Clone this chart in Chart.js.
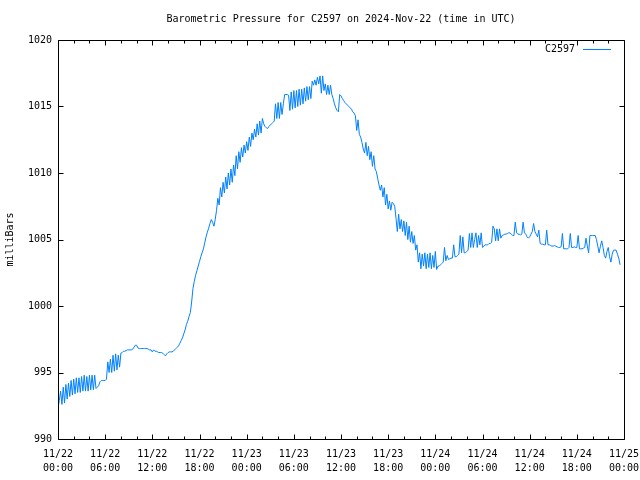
<!DOCTYPE html>
<html><head><meta charset="utf-8">
<script src="https://cdn.jsdelivr.net/npm/chart.js@4"></script>
<style>html,body{margin:0;padding:0;background:#fff;}#wrap{width:640px;height:480px;}</style>
</head><body><div id="wrap"><canvas id="c" width="640" height="480"></canvas></div>
<script>
const chartTitle = 'Barometric Pressure for C2597 on 2024-Nov-22 (time in UTC)';
const seriesName = 'C2597';
const yAxisTitle = 'milliBars';
const stepMinutes = 10; // sample spacing, starting 11/22 00:00 UTC
const pressure = [
992.3,992.9,993.6,992.6,993.9,992.7,
994.1,993.0,994.2,993.2,994.4,993.3,
994.5,993.4,994.6,993.5,994.6,993.5,
994.7,993.6,994.8,993.6,994.7,993.6,
994.8,993.7,994.8,993.7,994.8,993.8,
993.9,994.0,994.3,994.4,994.4,994.4,
994.4,994.5,995.8,995.0,996.0,995.0,
996.3,995.1,996.4,995.2,996.3,995.4,
996.45,996.5,996.6,996.6,996.65,996.7,
996.7,996.7,996.7,996.75,996.9,997.05,
997.05,996.85,996.8,996.8,996.8,996.8,
996.8,996.8,996.8,996.75,996.7,996.7,
996.55,996.7,996.6,996.6,996.55,996.5,
996.5,996.5,996.45,996.35,996.25,996.4,
996.5,996.55,996.55,996.55,996.6,996.7,
996.8,996.9,997.0,997.2,997.4,997.6,
997.9,998.2,998.6,998.85,999.2,999.5,
1000.3,1001.3,1001.85,1002.3,1002.65,1003.0,
1003.35,1003.7,1004.0,1004.3,1004.75,1005.2,
1005.55,1005.85,1006.2,1006.5,1006.3,1006.0,
1006.5,1007.2,1008.1,1007.6,1008.9,1008.2,
1009.3,1008.5,1009.7,1008.8,1010.0,1009.1,
1010.3,1009.3,1010.6,1009.8,1011.3,1010.3,
1011.6,1010.8,1011.9,1011.2,1012.1,1011.5,
1012.35,1011.7,1012.7,1012.0,1013.0,1012.5,
1013.3,1012.7,1013.7,1012.85,1013.9,1013.0,
1014.1,1013.7,1013.5,1013.4,1013.35,1013.5,
1013.6,1013.7,1013.8,1013.9,1015.2,1014.1,
1015.3,1014.1,1015.3,1014.4,1015.2,1015.9,
1015.9,1015.9,1015.85,1014.7,1016.1,1014.8,
1016.2,1014.9,1016.2,1015.0,1016.3,1015.1,
1016.3,1015.2,1016.4,1015.4,1016.5,1015.5,
1016.5,1015.6,1016.9,1016.6,1017.0,1016.6,
1017.2,1016.7,1017.3,1016.0,1017.3,1016.2,
1016.7,1015.9,1016.6,1015.9,1016.6,1015.9,
1015.6,1015.2,1014.9,1014.7,1014.6,1015.9,
1015.8,1015.6,1015.45,1015.3,1015.2,1015.1,
1015.0,1014.9,1014.8,1014.6,1014.5,1014.3,
1013.2,1014.0,1012.9,1012.7,1012.3,1011.8,
1011.5,1012.3,1011.3,1012.0,1011.0,1011.6,
1010.5,1011.3,1010.3,1010.1,1009.6,1009.1,
1008.7,1009.1,1008.2,1008.9,1007.6,1008.4,
1007.3,1007.9,1007.2,1007.8,1007.7,1007.5,
1006.6,1005.6,1006.9,1005.8,1006.5,1005.6,
1006.4,1005.3,1006.3,1005.0,1006.0,1004.8,
1005.6,1004.7,1005.3,1004.2,1004.6,1003.3,
1004.0,1002.8,1003.9,1003.0,1004.0,1002.8,
1003.9,1002.9,1004.0,1002.8,1003.8,1002.9,
1004.1,1002.75,1003.0,1003.0,1003.1,1003.2,
1003.3,1004.4,1003.4,1003.8,1003.5,1003.55,
1003.6,1003.6,1004.6,1003.7,1003.7,1003.8,
1003.9,1005.3,1004.0,1005.2,1004.0,1004.0,
1004.1,1004.2,1005.45,1004.4,1005.5,1004.4,
1005.0,1005.5,1004.4,1005.3,1004.6,1005.5,
1004.4,1004.5,1004.6,1004.6,1004.6,1004.7,
1004.7,1004.8,1006.0,1005.8,1004.9,1005.8,
1004.9,1005.8,1005.1,1005.3,1005.35,1005.4,
1005.4,1005.45,1005.5,1005.5,1005.4,1005.3,
1005.3,1006.3,1005.5,1005.4,1005.4,1005.35,
1005.4,1006.3,1005.5,1005.4,1005.2,1005.1,
1005.2,1005.4,1005.6,1006.2,1005.6,1005.4,
1005.2,1005.7,1004.7,1004.65,1004.65,1004.6,
1004.6,1005.7,1004.6,1004.6,1004.55,1004.5,
1004.5,1004.55,1004.5,1004.45,1004.4,1004.4,
1004.45,1005.45,1004.3,1004.3,1004.3,1004.3,
1004.4,1005.45,1004.4,1004.4,1004.45,1004.4,
1004.4,1005.3,1004.3,1004.3,1004.3,1004.35,
1004.4,1005.1,1004.5,1004.0,1005.3,1005.3,
1005.3,1005.3,1005.3,1005.0,1004.5,1004.0,
1004.5,1004.9,1004.4,1003.8,1003.6,1004.1,
1004.4,1003.7,1003.3,1003.9,1004.2,1004.2,
1004.2,1003.9,1003.6,1003.1
];
const xTickHours = [0,6,12,18,24,30,36,42,48,54,60,66,72];
const xTickLabels = [
 ['11/22','00:00'],['11/22','06:00'],['11/22','12:00'],['11/22','18:00'],
 ['11/23','00:00'],['11/23','06:00'],['11/23','12:00'],['11/23','18:00'],
 ['11/24','00:00'],['11/24','06:00'],['11/24','12:00'],['11/24','18:00'],
 ['11/25','00:00']];
const xMinorStepHours = 2;
const yTickValues = [990,995,1000,1005,1010,1015,1020];

const lineColor = 'rgb(0,128,255)';
const fontFamily = '"DejaVu Sans Mono", "Liberation Mono", monospace';

const points = pressure.map((p, i) => ({ x: i * stepMinutes / 60, y: p }));

const framePlugin = {
  id: 'gnuframe',
  afterDatasetsDraw(chart) {
    const { ctx, chartArea, scales } = chart;
    const xs = scales.x, ys = scales.y;
    const L = Math.round(chartArea.left) + 0.5, R = Math.round(chartArea.right) + 0.5;
    const T = Math.round(chartArea.top) + 0.5, B = Math.round(chartArea.bottom) + 0.5;
    ctx.save();
    ctx.strokeStyle = '#000';
    ctx.lineWidth = 1;
    ctx.beginPath();
    ctx.rect(L, T, R - L, B - T);
    const xmin = xTickHours[0], xmax = xTickHours[xTickHours.length - 1];
    for (let h = xmin; h <= xmax; h += xMinorStepHours) {
      const major = xTickHours.includes(h);
      const len = major ? 5 : 3;
      const px = Math.round(xs.getPixelForValue(h)) + 0.5;
      ctx.moveTo(px, B); ctx.lineTo(px, B - len);
      ctx.moveTo(px, T); ctx.lineTo(px, T + len);
    }
    yTickValues.forEach(v => {
      const py = Math.round(ys.getPixelForValue(v)) + 0.5;
      ctx.moveTo(L, py); ctx.lineTo(L + 5, py);
      ctx.moveTo(R, py); ctx.lineTo(R - 5, py);
    });
    ctx.stroke();
    // legend
    ctx.font = '10px ' + fontFamily;
    ctx.fillStyle = '#000';
    ctx.textAlign = 'right';
    ctx.textBaseline = 'middle';
    ctx.fillText(seriesName, 575, 49);
    ctx.strokeStyle = lineColor;
    ctx.beginPath();
    ctx.moveTo(583, 49.5); ctx.lineTo(611, 49.5);
    ctx.stroke();
    ctx.restore();
  }
};

new Chart(document.getElementById('c'), {
  type: 'line',
  data: { datasets: [{
    label: seriesName, data: points, borderColor: lineColor, borderWidth: 1,
    pointRadius: 0, tension: 0, fill: false
  }]},
  options: {
    responsive: false, animation: false, devicePixelRatio: 1,
    layout: { padding: { left: 0, right: 16, top: 0, bottom: 0 } },
    plugins: {
      legend: { display: false }, tooltip: { enabled: false },
      title: { display: true, text: chartTitle, fullSize: false, color: '#000',
        font: { family: fontFamily, size: 10, weight: 'normal', lineHeight: 1.2 },
        padding: { top: 13, bottom: 15 } }
    },
    scales: {
      x: {
        type: 'linear', min: 0, max: 72,
        afterFit: s => { s.height = 41; s.paddingLeft = 0; s.paddingRight = 0; },
        afterBuildTicks: s => { s.ticks = xTickHours.map(v => ({ value: v })); },
        grid: { display: false, drawTicks: false }, border: { display: false },
        ticks: {
          autoSkip: false, maxRotation: 0, minRotation: 0, padding: 8, color: '#000',
          font: { family: fontFamily, size: 10, lineHeight: 1.4 },
          callback: v => xTickLabels[xTickHours.indexOf(v)] || ''
        }
      },
      y: {
        min: 990, max: 1020,
        afterFit: s => { s.width = 58; s.paddingTop = 0; s.paddingBottom = 0; },
        afterBuildTicks: s => { s.ticks = yTickValues.map(v => ({ value: v })); },
        grid: { display: false, drawTicks: false }, border: { display: false },
        title: { display: true, text: yAxisTitle, color: '#000', padding: { top: 4, bottom: 0 },
          font: { family: fontFamily, size: 10, lineHeight: 1.2 } },
        ticks: { padding: 6, color: '#000', font: { family: fontFamily, size: 10 },
          callback: v => String(v) }
      }
    }
  },
  plugins: [framePlugin]
});
</script></body></html>
